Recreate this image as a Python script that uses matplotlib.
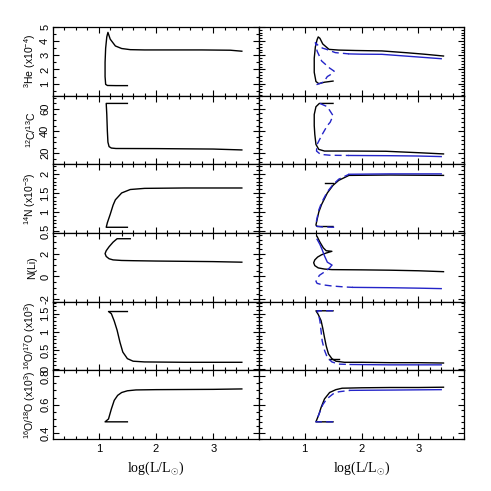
import matplotlib
matplotlib.use("Agg")
import matplotlib.pyplot as plt
from matplotlib.ticker import MultipleLocator, FuncFormatter, AutoMinorLocator

plt.rcParams['font.family'] = ['Liberation Sans', 'DejaVu Sans']
plt.rcParams['mathtext.fontset'] = 'custom'
plt.rcParams['mathtext.rm'] = 'Liberation Sans'
plt.rcParams['mathtext.it'] = 'Liberation Sans:italic'

# ---------------- data (log L, abundance) ----------------
# Panel 1: 3He (x1e-4)
he3_left_x = [1.50, 1.30, 1.15, 1.12, 1.11, 1.11, 1.12, 1.14, 1.16, 1.20, 1.29, 1.40, 1.55, 1.80, 2.2, 2.8, 3.3, 3.5]
he3_left_y = [0.86, 0.86, 0.87, 0.95, 1.50, 2.50, 3.50, 4.30, 4.62, 4.14, 3.66, 3.48, 3.40, 3.38, 3.38, 3.38, 3.36, 3.29]
he3_blk_x = [1.50, 1.35, 1.25, 1.20, 1.17, 1.17, 1.19, 1.22, 1.24, 1.27, 1.32, 1.43, 1.60, 1.90, 2.36, 2.8, 3.1, 3.44]
he3_blk_y = [1.18, 1.10, 1.00, 1.15, 1.80, 2.80, 3.60, 4.10, 4.30, 4.20, 3.80, 3.42, 3.37, 3.34, 3.31, 3.18, 3.08, 2.95]
he3_bdash_x = [1.21, 1.30, 1.35, 1.40, 1.45, 1.52, 1.44, 1.30, 1.22, 1.19, 1.25, 1.32, 1.38, 1.54, 1.78]
he3_bdash_y = [0.93, 1.05, 1.20, 1.50, 1.62, 1.88, 2.10, 2.60, 3.30, 3.90, 3.65, 3.50, 3.43, 3.19, 3.10]
he3_bsol_x = [1.78, 2.0, 2.36, 3.0, 3.4]
he3_bsol_y = [3.10, 3.08, 3.07, 2.88, 2.76]

# Panel 2: 12C/13C
c_left_x = [1.50, 1.30, 1.13, 1.14, 1.15, 1.16, 1.18, 1.22, 1.30, 2.0, 3.0, 3.5]
c_left_y = [65.0, 65.0, 65.0, 55.0, 40.0, 30.0, 26.0, 24.7, 24.3, 24.2, 23.8, 23.0]
c_blk_x = [1.50, 1.26, 1.20, 1.17, 1.17, 1.18, 1.20, 1.25, 1.35, 1.80, 2.43, 3.0, 3.44]
c_blk_y = [65.0, 65.0, 62.0, 55.0, 45.0, 37.0, 28.0, 23.5, 22.0, 22.0, 21.8, 20.5, 19.4]
c_bdash_x = [1.27, 1.40, 1.50, 1.45, 1.40, 1.31, 1.22, 1.21, 1.28, 1.45, 1.78]
c_bdash_y = [65.0, 62.0, 54.0, 48.0, 45.0, 37.0, 28.0, 22.0, 19.0, 18.2, 18.0]
c_bsol_x = [1.78, 2.5, 3.0, 3.4]
c_bsol_y = [18.0, 17.8, 17.5, 17.0]

# Panel 3: 14N (x1e-3)
n_left_x = [1.50, 1.30, 1.13, 1.15, 1.20, 1.25, 1.29, 1.40, 1.55, 1.80, 2.5, 3.5]
n_left_y = [0.60, 0.60, 0.60, 0.72, 0.94, 1.18, 1.32, 1.50, 1.59, 1.62, 1.63, 1.63]
n_blk_x = [1.50, 1.22, 1.20, 1.22, 1.25, 1.30, 1.40, 1.50, 1.60, 1.78, 2.5, 3.44]
n_blk_y = [0.62, 0.62, 0.66, 0.80, 1.00, 1.20, 1.50, 1.70, 1.83, 1.96, 1.97, 1.96]
n_seg_x = [1.36, 1.50]
n_seg_y = [1.77, 1.77]
n_bdash_x = [1.52, 1.30, 1.21, 1.20, 1.22, 1.25, 1.30, 1.40, 1.50, 1.60, 1.78]
n_bdash_y = [0.60, 0.61, 0.63, 0.70, 0.84, 1.05, 1.25, 1.53, 1.72, 1.86, 1.99]
n_bsol_x = [1.78, 2.5, 3.4]
n_bsol_y = [1.99, 2.00, 2.00]

# Panel 4: N(Li)
li_left_x = [1.55, 1.32, 1.25, 1.18, 1.13, 1.11, 1.13, 1.18, 1.25, 1.40, 1.60, 2.0, 3.0, 3.5]
li_left_y = [3.30, 3.30, 3.00, 2.60, 2.25, 2.00, 1.75, 1.55, 1.45, 1.40, 1.38, 1.35, 1.30, 1.25]
li_blk_x = [1.22, 1.27, 1.33, 1.38, 1.48, 1.38, 1.30, 1.23, 1.18, 1.16, 1.18, 1.24, 1.35, 1.48, 2.0, 2.5, 3.0, 3.44]
li_blk_y = [3.50, 3.00, 2.50, 2.25, 2.20, 2.05, 1.90, 1.70, 1.45, 1.20, 0.95, 0.75, 0.65, 0.60, 0.58, 0.55, 0.50, 0.42]
li_btop_x = [1.22, 1.27, 1.31, 1.35, 1.40, 1.45, 1.48]
li_btop_y = [3.25, 2.80, 2.33, 1.80, 1.25, 1.10, 1.00]
li_bdash_x = [1.48, 1.44, 1.35, 1.26, 1.20, 1.22, 1.31, 1.48, 1.72, 1.85]
li_bdash_y = [1.00, 0.75, 0.40, 0.10, -0.42, -0.60, -0.72, -0.83, -0.92, -0.95]
li_bsol_x = [1.85, 2.5, 3.0, 3.4]
li_bsol_y = [-0.95, -0.98, -1.02, -1.06]

# Panel 5: 16O/17O (x1e3)
o17_left_x = [1.50, 1.30, 1.17, 1.22, 1.27, 1.32, 1.37, 1.42, 1.50, 1.60, 1.80, 2.5, 3.5]
o17_left_y = [1.56, 1.56, 1.56, 1.50, 1.30, 1.05, 0.72, 0.45, 0.27, 0.20, 0.18, 0.17, 0.17]
o17_blk_x = [1.50, 1.35, 1.20, 1.24, 1.29, 1.32, 1.35, 1.38, 1.42, 1.48, 1.55, 1.70, 2.0, 2.5, 3.0, 3.44]
o17_blk_y = [1.58, 1.58, 1.58, 1.48, 1.31, 1.10, 0.85, 0.62, 0.40, 0.27, 0.20, 0.17, 0.17, 0.16, 0.16, 0.15]
o17_seg_x = [1.43, 1.60]
o17_seg_y = [0.25, 0.25]
o17_bdash_x = [1.50, 1.35, 1.22, 1.25, 1.27, 1.31, 1.35, 1.40, 1.48, 1.60, 1.80]
o17_bdash_y = [1.58, 1.58, 1.58, 1.45, 1.30, 0.75, 0.50, 0.30, 0.18, 0.12, 0.11]
o17_bsol_x = [1.80, 2.5, 3.4]
o17_bsol_y = [0.11, 0.10, 0.10]

# Panel 6: 16O/18O (x1e3)
o18_left_x = [1.50, 1.30, 1.11, 1.17, 1.22, 1.27, 1.33, 1.40, 1.50, 1.65, 2.0, 3.0, 3.5]
o18_left_y = [0.48, 0.48, 0.48, 0.50, 0.57, 0.63, 0.665, 0.685, 0.697, 0.703, 0.705, 0.707, 0.71]
o18_blk_x = [1.50, 1.35, 1.20, 1.25, 1.29, 1.35, 1.44, 1.55, 1.66, 2.0, 2.5, 3.0, 3.44]
o18_blk_y = [0.48, 0.48, 0.48, 0.53, 0.58, 0.64, 0.685, 0.705, 0.715, 0.718, 0.72, 0.72, 0.722]
o18_bdash_x = [1.50, 1.30, 1.20, 1.25, 1.32, 1.39, 1.50, 1.60, 1.80]
o18_bdash_y = [0.48, 0.48, 0.48, 0.53, 0.60, 0.64, 0.675, 0.69, 0.70]
o18_bsol_x = [1.80, 2.5, 3.4]
o18_bsol_y = [0.70, 0.702, 0.705]

ylabels = [r'$^{3}$He (x10$^{-4}$)', r'$^{12}$C/$^{13}$C', r'$^{14}$N (x10$^{-3}$)',
           'N(Li)', r'$^{16}$O/$^{17}$O (x10$^{3}$)', r'$^{16}$O/$^{18}$O (x10$^{3}$)']
ylims = [(0.15, 5.0), (10, 72), (0.45, 2.25), (-2.2, 3.8), (-0.05, 1.83), (0.36, 0.84)]
ymajor = [1, 20, 0.5, 2, 0.5, 0.2]
yminor_left = [0.5, 5, 0.1, 0.5, 0.1, 0.05]
xticks = [1, 2, 3]
xlim = (0.2, 3.8)

left_data = [(he3_left_x, he3_left_y), (c_left_x, c_left_y), (n_left_x, n_left_y),
             (li_left_x, li_left_y), (o17_left_x, o17_left_y), (o18_left_x, o18_left_y)]
right_black = [[(he3_blk_x, he3_blk_y)],
               [(c_blk_x, c_blk_y)],
               [(n_blk_x, n_blk_y), (n_seg_x, n_seg_y)],
               [(li_blk_x, li_blk_y)],
               [(o17_blk_x, o17_blk_y), (o17_seg_x, o17_seg_y)],
               [(o18_blk_x, o18_blk_y)]]
right_bdash = [(he3_bdash_x, he3_bdash_y), (c_bdash_x, c_bdash_y), (n_bdash_x, n_bdash_y),
               (li_bdash_x, li_bdash_y), (o17_bdash_x, o17_bdash_y), (o18_bdash_x, o18_bdash_y)]
right_bsol = [[(he3_bsol_x, he3_bsol_y)], [(c_bsol_x, c_bsol_y)], [(n_bsol_x, n_bsol_y)],
              [(li_btop_x, li_btop_y), (li_bsol_x, li_bsol_y)],
              [(o17_bsol_x, o17_bsol_y)], [(o18_bsol_x, o18_bsol_y)]]

BLUE = '#2424c8'
W, H = 491, 491
fig = plt.figure(figsize=(W / 100, H / 100), dpi=100)

x0, xm, x1 = 53 / W, 259 / W, 464 / W
ytop, ybot = 1 - 27 / H, 1 - 439 / H
ph = (ytop - ybot) / 6

fmt = FuncFormatter(lambda v, p: '%g' % round(v, 3))

for i in range(6):
    yb = ytop - (i + 1) * ph
    axL = fig.add_axes([x0, yb, xm - x0, ph])
    axR = fig.add_axes([xm, yb, x1 - xm, ph])
    axL.plot(*left_data[i], color='black', lw=1.0)
    for xs, ys in right_black[i]:
        axR.plot(xs, ys, color='black', lw=1.0)
    axR.plot(*right_bdash[i], color=BLUE, lw=1.0, dashes=(5, 3))
    for xs, ys in right_bsol[i]:
        axR.plot(xs, ys, color=BLUE, lw=1.0)
    for j, ax in enumerate((axL, axR)):
        ax.set_xlim(*xlim)
        ax.set_ylim(*ylims[i])
        ax.xaxis.set_major_locator(MultipleLocator(1))
        ax.xaxis.set_minor_locator(MultipleLocator(0.2))
        ax.yaxis.set_major_locator(MultipleLocator(ymajor[i]))
        if j == 0:
            ax.yaxis.set_minor_locator(MultipleLocator(yminor_left[i]))
        else:
            ax.yaxis.set_minor_locator(AutoMinorLocator(5))
        ax.tick_params(which='both', direction='in', top=True, right=True, width=0.8)
        ax.tick_params(which='major', length=4.5)
        ax.tick_params(which='minor', length=2.2)
        for s in ax.spines.values():
            s.set_linewidth(0.9)
        ax.yaxis.set_major_formatter(fmt)
        if j == 1:
            ax.set_yticklabels([])
        if i < 5:
            ax.set_xticklabels([])
        else:
            ax.set_xticks(xticks)
            ax.set_xticklabels([str(t) for t in xticks], fontsize=8)
            ax.set_xlabel(r'log(L/L$_{\odot}$)', fontsize=10, labelpad=4,
                          fontfamily='Liberation Serif')
    for lab in axL.get_yticklabels():
        lab.set_rotation(90)
        lab.set_va('center')
        lab.set_fontsize(8)
    axL.tick_params(axis='y', pad=2)
    axL.set_ylabel(ylabels[i], fontsize=7.5, labelpad=3)
    axL.yaxis.set_label_coords(-0.075, 0.5)

fig.savefig('out.png', dpi=100)
